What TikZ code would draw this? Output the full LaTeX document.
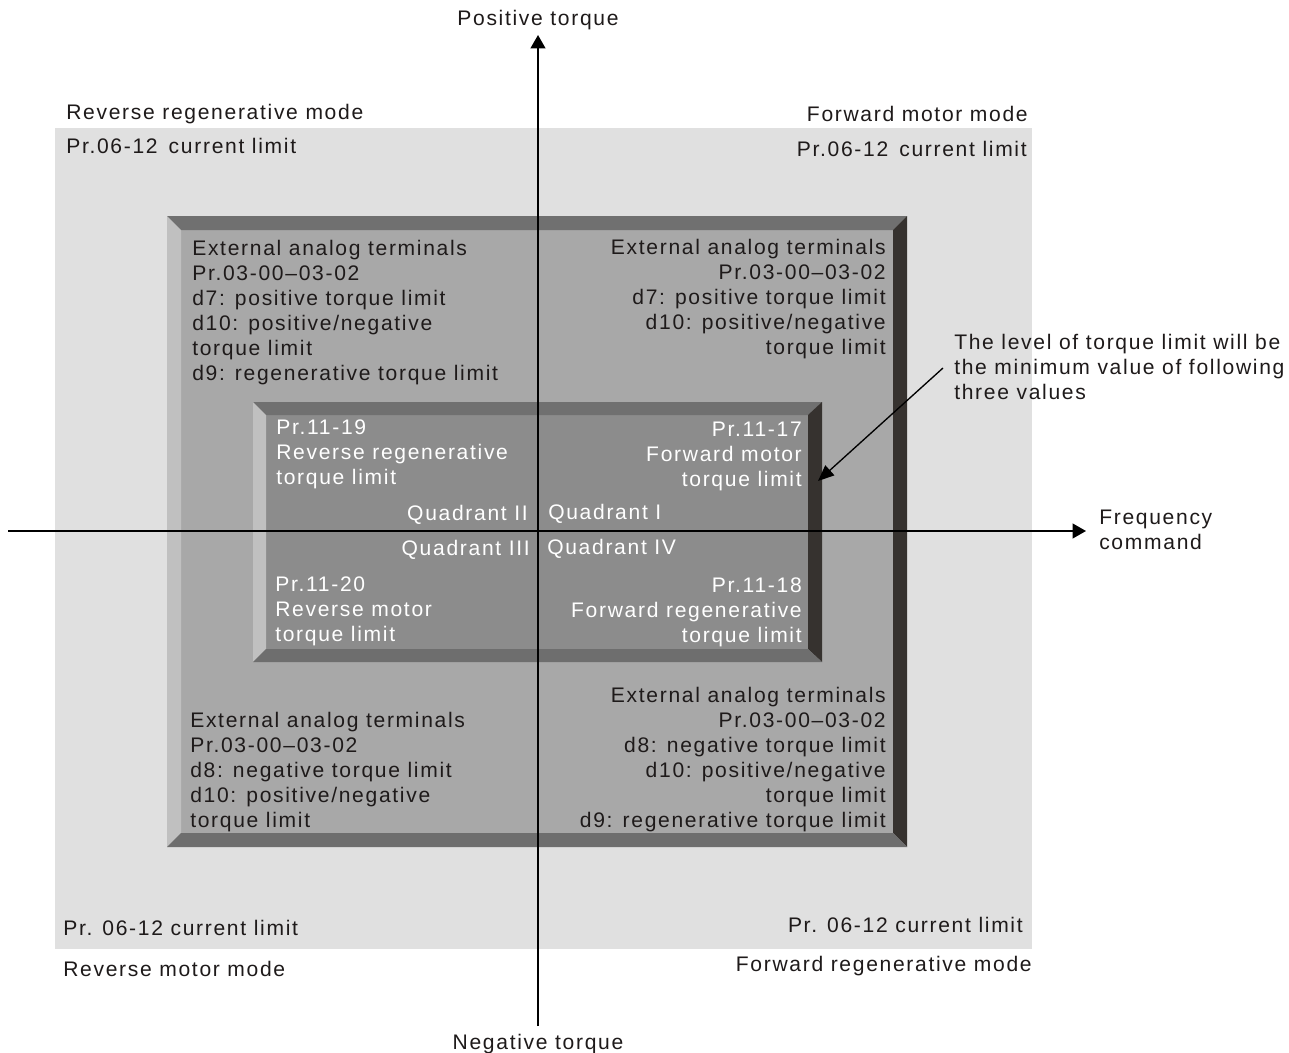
\documentclass[tikz,border=0pt]{standalone}
\usepackage{fontspec}
\setmainfont{Liberation Sans}[LetterSpace=8]
\usetikzlibrary{arrows.meta}
\definecolor{bglight}{HTML}{E0E0E0}
\definecolor{outface}{HTML}{A8A8A8}
\definecolor{inface}{HTML}{8C8C8C}
\definecolor{bevtop}{HTML}{707070}
\definecolor{bevbot}{HTML}{6E6E6E}
\definecolor{bevleft}{HTML}{C0C0C0}
\definecolor{bevright}{HTML}{36322F}
\definecolor{txtcol}{HTML}{1E1A1A}
\tikzset{
  txt/.style={inner sep=0pt, font=\fontsize{15.8}{18.75}\selectfont, text=txtcol},
  wtxt/.style={txt, text=white},
  lblock/.style={align=left, anchor=north west},
  rblock/.style={align=right, anchor=north east},
  axis/.style={line width=1.5pt, draw=black, -{Triangle[length=10pt,width=11pt]}},
  note/.style={line width=1pt, draw=black, -{Triangle[length=12pt,width=10pt]}}
}
\begin{document}
\begin{tikzpicture}[x=0.75pt,y=-0.75pt]
\useasboundingbox (0,0) rectangle (1289,1053);
\fill[white] (0,0) rectangle (1289,1053);
% light background
\fill[bglight] (55,128) rectangle (1032,949);
% outer bevel box
\fill[outface] (167,216) rectangle (907,847);
\fill[bevtop] (167,216) -- (907,216) -- (893,230) -- (181,230) -- cycle;
\fill[bevleft] (167,216) -- (181,230) -- (181,833) -- (167,847) -- cycle;
\fill[bevright] (907,216) -- (907,847) -- (893,833) -- (893,230) -- cycle;
\fill[bevbot] (167,847) -- (907,847) -- (893,833) -- (181,833) -- cycle;
% inner bevel box
\fill[inface] (253,402) rectangle (822,662);
\fill[bevtop] (253,402) -- (822,402) -- (808,415) -- (266,415) -- cycle;
\fill[bevleft] (253,402) -- (266,415) -- (266,649) -- (253,662) -- cycle;
\fill[bevright] (822,402) -- (822,662) -- (808,649) -- (808,415) -- cycle;
\fill[bevbot] (253,662) -- (822,662) -- (808,649) -- (266,649) -- cycle;

% outer labels
\node[txt, anchor=north] (pos) at (538,10) {Positive torque};
\node[txt, anchor=north] (neg) at (538,1034) {Negative torque};
\node[txt, lblock] (freq) at (1099,510) {Frequency\\command};
\node[txt, anchor=north west] (rrm) at (66,104) {Reverse regenerative mode};
\node[txt, anchor=north west] (cltl) at (66,138) {Pr.06-12\ \,current limit};
\node[txt, anchor=north east] (fmm) at (1028,106) {Forward motor mode};
\node[txt, anchor=north east] (cltr) at (1027,141) {Pr.06-12\ \,current limit};
\node[txt, anchor=north west] (clbl) at (63,920) {Pr. 06-12 current limit};
\node[txt, anchor=north west] (rmm) at (63,961) {Reverse motor mode};
\node[txt, anchor=north east] (clbr) at (1023,917) {Pr. 06-12 current limit};
\node[txt, anchor=north east] (frm) at (1032,956) {Forward regenerative mode};

% outer frame blocks
\node[txt, lblock] (extl) at (192,240) {External analog terminals\\Pr.03-00--03-02\\d7: positive torque limit\\d10: positive/negative\\torque limit\\d9: regenerative torque limit};
\node[txt, rblock] (extr) at (886,239) {External analog terminals\\Pr.03-00--03-02\\d7: positive torque limit\\d10: positive/negative\\torque limit};
\node[txt, lblock] (exbl) at (190,712) {External analog terminals\\Pr.03-00--03-02\\d8: negative torque limit\\d10: positive/negative\\torque limit};
\node[txt, rblock] (exbr) at (886,687) {External analog terminals\\Pr.03-00--03-02\\d8: negative torque limit\\d10: positive/negative\\torque limit\\d9: regenerative torque limit};

% inner blocks
\node[wtxt, lblock] (intl) at (276,420) {Pr.11-19\\Reverse regenerative\\torque limit};
\node[wtxt, rblock] (intr) at (802,422) {Pr.11-17\\Forward motor\\torque limit};
\node[wtxt, lblock] (inbl) at (275,577) {Pr.11-20\\Reverse motor\\torque limit};
\node[wtxt, rblock] (inbr) at (802,578) {Pr.11-18\\Forward regenerative\\torque limit};
\node[wtxt, anchor=north east] (q2) at (528,505) {Quadrant II};
\node[wtxt, anchor=north west] (q1) at (548,504) {Quadrant I};
\node[wtxt, anchor=north east] (q3) at (530,540) {Quadrant III};
\node[wtxt, anchor=north west] (q4) at (547,539) {Quadrant IV};

% annotation
\node[txt, lblock] (note) at (954,334) {The level of torque limit will be\\the minimum value of following\\three values};

% axes
\coordinate (vb) at (538,1026);
\coordinate (vt) at (538,35);
\coordinate (hl) at (8,531);
\coordinate (hr) at (1086,531);
\draw[axis] (vb) -- (vt);
\draw[axis] (hl) -- (hr);
% arrow
\coordinate (ns) at (943,368);
\coordinate (nt) at (818,481);
\draw[note] (ns) -- (nt);
\end{tikzpicture}
\end{document}
